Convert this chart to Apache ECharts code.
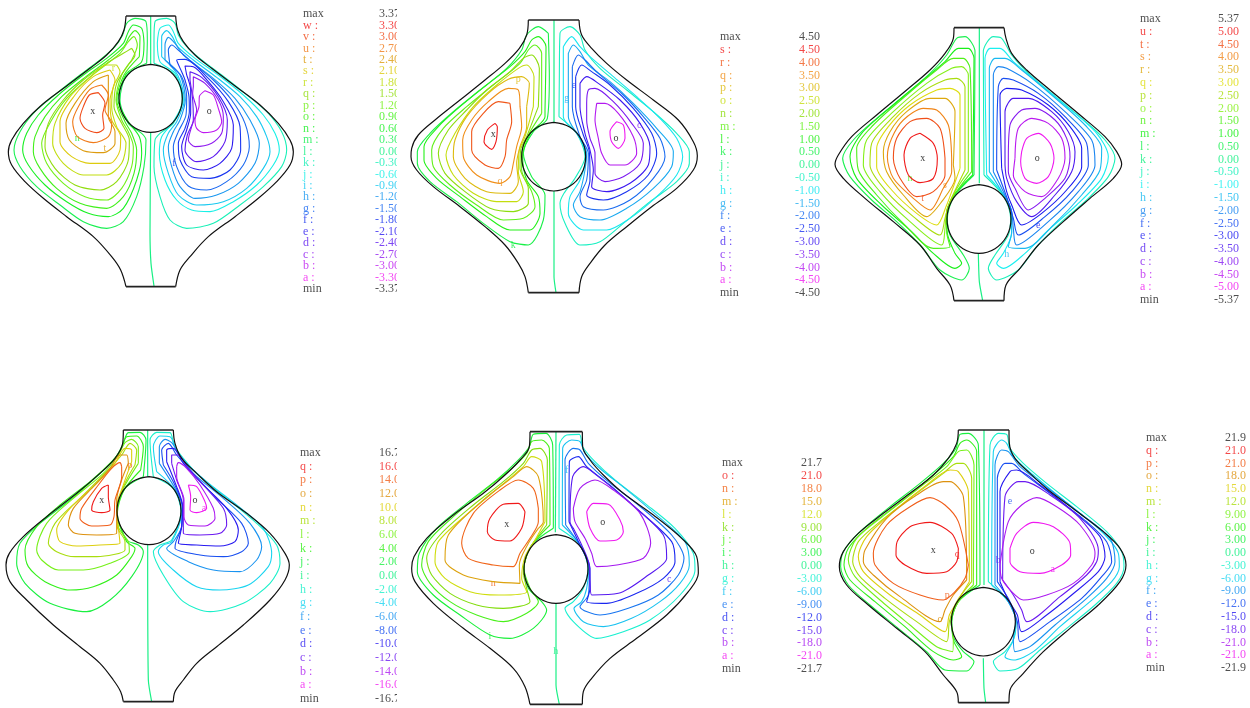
<!DOCTYPE html>
<html><head><meta charset="utf-8">
<script src="https://cdn.jsdelivr.net/npm/echarts@6/dist/echarts.min.js"></script>
<style>html,body{margin:0;background:#fff}#c{width:1250px;height:708px;filter:blur(0.55px)}</style>
</head><body><div id="c"></div>
<script>
// ---------- panel 1 ----------
const wall1=[[378,48,372,90,355,125,320,165,270,205,200,258,125,315,70,370,35,420,25,455,35,495,75,545,130,595,200,650,280,710,335,770,362,810,378,860],[527,48,533,90,550,125,585,165,635,205,705,258,780,315,835,370,870,420,880,455,870,495,830,545,775,595,705,650,625,710,570,770,540,810,527,860]];
const cyl1=[452,193,500,207,534,244,547,295,534,346,500,383,452,397,404,383,370,346,357,295,370,244,404,207];
const axis1=[[11,[452,48,452,195]],[11,[452,398,450,700,453,790,462,858]]];
const rings1=[
[10,[440,190,442,120,438,65,405,55,380,70,368,105,345,140,300,180,240,225,170,280,105,335,60,395,42,450,60,500,110,560,180,615,250,665,320,685,370,665,410,590,432,500,438,420,425,400,385,370,360,300,380,225]],
[9,[432,130,425,85,400,75,385,95,370,130,320,175,250,225,175,285,115,345,80,400,68,450,85,495,135,555,200,605,265,640,325,650,370,625,410,540,425,460,418,410,385,365,354,300,378,222,425,185]],
[8,[418,170,420,110,405,92,388,110,372,140,325,180,255,232,185,290,135,350,105,410,100,455,120,505,170,565,240,610,320,625,370,590,402,520,410,450,395,400,375,365,350,300,372,225]],
[7,[395,180,412,135,402,110,385,125,360,160,265,235,200,295,155,360,125,430,140,490,190,550,255,590,320,600,365,565,395,500,400,440,385,395,365,360,348,300,365,225]],
[6,[395,145,370,160,320,190,250,240,190,300,145,370,135,440,165,505,225,555,300,570,350,545,385,480,388,420,365,370,342,320,350,250,385,195,405,165]],
[5,[350,195,320,195,270,232,210,290,165,370,158,430,190,490,250,525,320,525,365,490,378,430,350,380,335,320,340,260,360,215]],
[4,[330,210,280,230,225,285,180,365,180,425,215,470,270,490,330,490,360,450,362,410,335,360,330,300,345,240]],
[3,[325,225,280,245,225,310,198,370,208,420,250,452,310,458,345,430,345,395,325,350,325,290]],
[2,[305,255,270,268,235,320,218,365,232,410,280,428,325,410,335,370,315,330,325,285]],
[1,[295,278,268,285,250,320,240,355,255,385,290,398,312,385,308,345,315,310]],
[12,[462,190,462,120,465,65,500,55,525,70,535,105,560,140,605,180,665,225,735,280,800,335,845,395,860,450,845,500,790,560,720,615,640,670,560,685,510,660,480,590,462,500,465,420,480,400,520,370,547,300,525,225]],
[13,[472,130,480,85,505,75,520,95,535,130,585,175,655,225,730,285,790,345,825,400,838,450,820,495,770,555,700,605,630,635,575,630,530,600,495,540,478,460,485,410,520,365,550,300,527,222,480,185]],
[14,[485,170,485,110,500,92,517,110,533,140,580,180,650,232,720,290,770,350,800,410,810,455,790,505,740,565,670,605,590,615,535,585,505,520,490,450,505,400,530,365,553,300,533,225]],
[15,[495,180,495,135,505,112,525,130,550,165,640,235,705,295,750,360,778,430,765,490,715,550,650,585,585,595,540,560,515,500,505,440,520,395,540,360,556,300,540,225]],
[16,[510,195,505,150,515,135,540,155,580,190,640,240,695,300,735,370,748,440,730,495,680,545,620,570,565,558,530,500,520,440,535,395,558,345,560,290,545,230]],
[17,[545,215,530,180,555,178,625,235,685,305,720,380,722,450,690,510,630,535,575,530,540,480,535,430,555,385,568,335,567,290,555,240]],
[18,[560,225,555,198,580,200,625,245,670,305,700,375,695,445,660,490,610,510,560,495,545,440,560,390,572,340,572,270]],
[19,[570,240,570,215,605,232,655,290,682,360,675,425,640,470,590,485,555,450,562,405,580,360,578,300]],
[20,[580,260,580,230,615,250,655,300,670,350,665,400,635,430,585,440,565,420,575,380,590,330,578,280]],
[21,[615,272,640,285,655,325,665,365,650,390,610,398,590,385,585,360,597,320,598,290]]
];
const marks1=[['x',-1,278,335],['o',-1,628,335],['n',9,232,415],['t',3,315,445],['f',17,522,490],['r',5,340,205]];
const names1=['max','w :','v :','u :','t :','s :','r :','q :','p :','o :','n :','m :','l :','k :','j :','i :','h :','g :','f :','e :','d :','c :','b :','a :','min'];
const values1=['3.37','3.30','3.00','2.70','2.40','2.10','1.80','1.50','1.20','0.90','0.60','0.30','0.00','-0.30','-0.60','-0.90','-1.20','-1.50','-1.80','-2.10','-2.40','-2.70','-3.00','-3.30','-3.37'];

// ---------- panel 2 ----------
const wall2=[[355,30,350,75,328,115,285,160,225,210,150,270,75,330,25,375,5,415,3,440,20,480,70,530,150,590,225,650,285,705,325,760,345,800,355,848],[507,30,515,75,545,115,590,160,650,210,730,270,805,330,850,395,862,437,850,480,800,535,725,590,650,650,585,705,540,760,515,800,507,848]];
const cyl2=[431,337,479,351,514,388,527,440,514,492,479,529,431,543,383,529,348,492,335,440,348,388,383,351];
const axis2=[[9,[432,30,432,337]],[9,[432,543,432,800,438,848]]];
const rings2=[
[8,[415,70,418,200,412,325,370,365,340,430,365,500,405,555,400,630,355,705,300,695,220,640,140,575,60,515,22,460,22,425,60,370,130,305,210,240,290,175,335,120,350,75,385,50]],
[7,[405,300,408,110,385,80,365,90,345,125,300,170,230,225,150,290,85,350,42,410,42,450,80,505,150,560,230,620,300,660,360,660,390,610,385,560,350,510,338,440,362,370,405,320]],
[6,[395,310,395,130,375,105,355,120,330,160,250,225,170,290,100,355,65,420,70,470,120,525,200,585,280,630,340,625,375,590,365,545,335,480,335,430,355,375]],
[5,[385,290,388,175,365,135,340,145,300,185,230,240,170,300,115,360,85,430,105,490,165,545,240,595,310,605,355,580,355,535,330,475,332,420,350,380]],
[4,[370,290,372,200,350,165,325,175,260,225,190,290,135,370,108,435,130,495,190,550,260,575,320,575,340,545,325,485,328,420,345,380]],
[3,[350,290,358,220,335,200,295,208,235,250,170,320,135,390,130,440,165,505,230,545,300,550,325,515,320,460,330,410,350,350]],
[2,[330,290,325,240,295,235,235,275,185,330,158,390,160,440,200,495,270,520,300,500,310,460,320,410,335,350]],
[1,[300,280,265,275,220,310,185,365,185,420,225,465,265,475,285,440,290,390,305,335]],
[0,[255,340,232,360,222,395,245,418,258,395,262,350]],
[10,[447,320,448,200,450,70,480,50,510,75,525,120,570,175,650,240,730,305,800,370,838,425,838,460,800,515,720,575,640,640,570,695,510,705,465,640,450,580,462,550,495,505,525,440,500,370]],
[11,[460,110,485,80,510,110,540,140,610,200,680,260,750,325,800,385,818,440,800,495,740,560,660,625,590,660,520,660,475,610,480,560,510,510,528,440,505,375,460,320]],
[12,[475,130,490,105,510,125,535,165,600,215,670,280,740,355,790,425,785,470,730,535,650,595,570,630,510,620,490,585,510,545,525,480,530,430,510,385,475,320]],
[13,[487,170,505,135,525,150,565,190,640,255,700,320,750,385,765,440,730,505,660,570,580,600,520,590,510,560,530,510,535,430,510,380,487,290]],
[14,[497,200,515,165,545,185,600,225,670,295,725,370,740,430,715,495,650,545,580,570,530,555,540,510,538,425,520,375,497,290]],
[15,[510,220,530,200,565,220,630,270,690,340,720,410,715,465,660,520,590,545,545,530,550,480,540,420,525,370,510,290]],
[16,[530,280,535,240,555,235,610,275,665,340,700,400,690,460,640,500,585,515,555,490,555,430,540,385,530,330]],
[17,[560,280,585,280,625,310,670,380,680,430,645,465,600,465,575,430,565,385,555,330]],
[18,[620,335,640,345,645,385,625,415,605,395,600,365]]
];
const marks2=[['x',-1,250,372],['o',-1,618,385],['k',8,310,705],['p',3,325,208],['e',14,492,225],['g',12,470,265],['q',2,270,515],['c',16,688,345]];
const names2=['max','s :','r :','q :','p :','o :','n :','m :','l :','k :','j :','i :','h :','g :','f :','e :','d :','c :','b :','a :','min'];
const values2=['4.50','4.50','4.00','3.50','3.00','2.50','2.00','1.50','1.00','0.50','0.00','-0.50','-1.00','-1.50','-2.00','-2.50','-3.00','-3.50','-4.00','-4.50','-4.50'];

// ---------- panel 3 ----------
const wall3=[[372,38,370,70,345,115,300,165,230,225,140,300,65,365,25,420,15,448,40,490,105,550,190,620,270,690,320,760,360,810,372,857],[522,38,528,70,545,115,590,165,660,225,750,300,825,365,860,410,875,448,850,490,780,550,700,620,625,690,570,760,528,810,522,857]];
const cyl3=[447,509,495,523,530,560,543,612,530,664,495,701,447,715,399,701,364,664,351,612,364,560,399,523];
const axis3=[[10,[448,38,448,505]],[10,[445,715,448,800,458,857]]];
const rings3=[
[9,[432,480,435,110,405,65,380,70,350,120,300,175,225,240,140,310,70,375,38,430,60,485,125,555,200,620,275,695,330,765,395,795,418,760,400,720,360,660,352,610,372,545]],
[8,[428,480,432,130,415,100,385,100,345,140,280,195,190,270,95,355,60,425,80,490,155,570,245,650,310,715,375,760,395,745,375,715,352,655,350,600,368,545]],
[7,[425,470,420,160,400,130,370,130,320,165,230,240,130,330,80,400,85,465,140,540,220,625,310,700,360,695,350,650,350,590,380,530]],
[6,[415,470,415,180,395,155,365,160,290,205,190,290,110,375,100,450,150,530,240,620,335,690,345,640,350,590,375,530]],
[5,[405,465,405,215,380,190,345,195,270,235,190,305,125,385,120,450,170,530,250,605,330,660,345,610,360,560]],
[4,[390,460,390,240,360,220,320,225,240,270,175,335,140,400,140,455,185,525,260,595,320,630,350,570,365,530]],
[3,[370,450,375,290,345,250,300,250,230,290,180,350,160,410,170,470,220,540,290,605,335,560,375,490]],
[2,[365,430,355,330,320,285,280,280,220,315,185,370,172,425,190,490,250,550,300,585,340,520,365,470]],
[1,[345,430,330,340,290,310,240,320,200,370,190,430,210,490,260,545,310,530,345,480]],
[0,[270,355,240,370,222,420,235,480,270,503,310,490,322,430,310,385]],
[11,[462,480,460,110,490,65,515,70,545,120,595,175,670,240,755,310,825,375,855,430,835,485,770,555,695,620,620,695,565,765,500,795,475,760,495,720,535,660,542,610,522,545]],
[12,[470,480,465,130,480,100,510,100,550,140,615,195,705,270,800,355,835,425,815,490,740,570,650,650,585,715,520,760,500,745,520,715,545,655,545,600,525,545]],
[13,[478,470,478,160,495,130,525,130,575,165,665,240,765,330,815,400,810,465,755,540,675,625,585,700,535,695,545,650,545,590,515,530]],
[14,[490,470,490,180,505,155,530,160,605,205,705,290,785,375,795,450,745,530,655,620,560,690,550,640,545,590,520,530]],
[15,[500,465,505,215,520,190,550,195,625,235,705,305,770,385,775,450,725,530,645,605,565,660,550,610,535,560]],
[16,[515,460,510,240,530,220,575,225,655,270,720,335,755,400,755,455,710,525,635,595,575,630,545,570,530,530]],
[17,[525,450,525,290,550,250,595,250,665,290,715,350,735,410,725,470,675,540,605,605,560,560,530,490]],
[18,[535,430,540,330,575,285,615,280,675,315,710,370,720,425,705,490,645,550,595,585,555,520,535,470]],
[19,[555,430,565,340,605,310,655,325,695,370,705,430,685,490,635,545,585,530,550,480]],
[20,[575,410,590,370,625,355,660,385,672,430,655,485,620,505,585,490,572,440]]
];
const marks3=[['x',-1,278,430],['o',-1,622,430],['t',1,278,550],['e',16,625,632],['h',13,530,718],['n',7,240,490],['s',2,345,510]];
const names3=['max','u :','t :','s :','r :','q :','p :','o :','n :','m :','l :','k :','j :','i :','h :','g :','f :','e :','d :','c :','b :','a :','min'];
const values3=['5.37','5.00','4.50','4.00','3.50','3.00','2.50','2.00','1.50','1.00','0.50','0.00','-0.50','-1.00','-1.50','-2.00','-2.50','-3.00','-3.50','-4.00','-4.50','-5.00','-5.37'];

// ---------- panel 4 ----------
const wall4=[[370,30,368,70,345,115,300,160,230,220,140,290,70,350,28,400,18,435,30,485,80,540,160,615,240,680,300,730,340,780,362,815,370,845],[520,30,525,70,545,115,590,160,650,215,740,280,810,340,855,400,868,435,855,480,810,540,730,615,650,680,590,730,550,780,525,815,520,845]];
const cyl4=[447,170,495,184,530,221,543,272,530,323,495,360,447,374,399,360,364,323,351,272,364,221,399,184];
const axis4=[[8,[443,30,443,170]],[8,[443,374,445,780,455,845]]];
const rings4=[
[7,[430,170,438,60,420,37,385,38,368,75,345,115,290,170,210,240,120,310,60,370,50,430,75,490,150,550,260,575,330,540,395,470,430,395,415,375,380,360,350,275,375,205]],
[6,[422,150,430,80,410,48,380,50,362,90,335,125,270,185,180,255,110,320,75,390,85,440,135,485,210,510,280,500,350,465,395,410,405,385,380,365,352,280,372,210]],
[5,[415,130,415,80,395,58,375,68,355,105,310,160,220,235,140,310,110,390,125,420,175,450,250,450,330,430,388,395,385,365,355,320,352,260,370,205]],
[4,[405,135,410,90,390,70,365,105,325,150,240,235,165,310,145,370,170,395,225,410,290,410,375,390,375,365,352,320,352,260,375,190]],
[3,[395,125,395,90,375,85,345,130,290,190,210,265,170,330,180,365,230,378,300,375,360,370,355,320,350,260,370,195]],
[2,[385,130,380,105,360,105,330,145,285,195,220,265,205,315,225,340,290,345,350,340,350,280,350,240,365,180]],
[1,[365,140,360,128,335,145,295,195,245,265,240,295,275,318,330,315,342,290,345,240,365,170]],
[0,[325,195,305,205,280,245,275,270,305,278,330,270,325,230]],
[9,[460,170,450,60,470,37,510,38,522,75,550,115,600,170,680,235,770,310,830,375,840,430,810,490,730,550,630,575,550,545,490,465,460,395,480,375,515,360,543,275,520,205]],
[10,[470,155,460,80,480,48,510,50,530,90,555,125,620,185,710,255,790,325,815,400,805,440,745,495,660,510,590,500,520,450,475,395,490,375,515,365,545,280,525,210]],
[11,[478,130,478,80,495,58,515,68,538,105,580,160,670,235,750,310,785,380,770,420,720,455,640,450,565,425,500,385,520,365,545,320,547,260,525,205]],
[12,[490,135,485,90,505,70,530,105,570,150,650,235,725,310,745,370,725,395,670,410,600,405,525,385,528,365,545,320,547,260,522,190]],
[13,[500,125,500,90,520,85,550,130,605,190,680,265,715,330,705,365,660,378,590,375,535,370,545,320,548,260,528,195]],
[14,[515,130,515,105,535,105,565,145,610,195,670,265,680,315,660,340,600,345,550,340,550,280,550,240,530,180]],
[15,[530,140,535,128,560,145,600,195,640,265,645,295,615,318,565,315,552,290,552,240,530,170]],
[16,[565,195,590,200,615,245,620,265,590,278,570,270,572,230]]
];
const marks4=[['x',-1,305,242],['o',-1,585,242],['a',16,612,264],['p',1,390,135]];
const names4=['max','q :','p :','o :','n :','m :','l :','k :','j :','i :','h :','g :','f :','e :','d :','c :','b :','a :','min'];
const values4=['16.7','16.0','14.0','12.0','10.0','8.00','6.00','4.00','2.00','0.00','-2.00','-4.00','-6.00','-8.00','-10.0','-12.0','-14.0','-16.0','-16.7'];

// ---------- panel 5 ----------
const wall5=[[360,20,358,65,330,105,285,150,220,205,130,270,50,340,12,395,5,430,15,470,70,535,160,610,240,670,310,730,345,785,360,838],[517,20,518,65,540,105,580,150,640,205,730,270,815,340,860,395,865,445,835,500,770,570,680,640,600,700,545,760,520,800,517,838]];
const cyl5=[438,329,486,343,521,380,534,432,521,484,486,521,438,535,390,521,355,484,342,432,355,380,390,343];
const axis5=[[7,[438,20,436,322]],[7,[438,535,438,780,448,838]]];
const rings5=[
[6,[430,310,428,60,408,25,370,28,358,65,320,110,260,165,170,235,80,310,28,385,22,440,70,510,150,570,240,630,300,640,370,610,410,555,395,530,355,490,342,430,365,360]],
[5,[420,300,418,70,395,45,365,50,350,85,300,135,230,190,130,275,55,350,35,420,60,475,120,530,200,570,280,590,350,565,385,530,360,490,342,430,362,365]],
[4,[410,300,412,105,390,70,365,75,340,115,280,170,190,240,90,330,50,400,65,450,120,505,200,540,280,550,360,530,350,490,340,440,360,370]],
[3,[405,290,395,110,365,95,340,125,270,185,180,260,85,350,75,410,105,460,180,500,265,510,350,500,335,460,345,395,375,345]],
[2,[385,310,400,290,385,155,350,125,310,155,220,225,115,330,105,405,160,450,250,470,330,475,328,420,355,355]],
[1,[385,250,370,190,325,165,270,195,190,265,155,355,175,400,250,420,310,425,330,385,360,340,385,290]],
[0,[345,260,325,235,280,238,240,280,232,320,255,345,300,348,335,310]],
[8,[447,310,448,60,470,30,508,28,518,65,555,110,615,165,705,235,795,310,850,385,855,435,810,510,720,585,640,620,560,640,490,590,465,550,490,530,520,490,534,430,510,360]],
[9,[457,300,458,70,485,45,510,50,525,85,575,135,645,190,745,275,825,350,838,420,810,475,750,530,665,580,580,605,520,590,492,550,515,530,530,490,536,430,515,365]],
[10,[467,300,465,105,490,70,510,75,535,115,595,170,685,240,785,330,822,400,805,450,745,510,655,550,570,570,510,545,535,510,538,440,515,370]],
[11,[477,290,478,110,505,95,530,125,605,185,690,260,785,350,795,410,760,460,680,505,590,535,530,530,540,490,540,430,510,360]],
[12,[490,310,480,290,488,155,520,125,565,155,650,225,760,330,770,400,715,450,625,505,545,510,540,470,538,420,515,360]],
[13,[490,250,510,190,555,165,610,195,690,265,722,355,700,400,620,420,560,425,545,385,525,340,495,290]],
[14,[530,260,550,235,595,238,630,285,640,320,620,345,570,348,540,310]]
];
const marks5=[['x',-1,290,297],['o',-1,578,292],['i',6,240,635],['h',7,437,680],['n',1,250,475],['c',12,778,462],['f',9,470,135]];
const names5=['max','o :','n :','m :','l :','k :','j :','i :','h :','g :','f :','e :','d :','c :','b :','a :','min'];
const values5=['21.7','21.0','18.0','15.0','12.0','9.00','6.00','3.00','0.00','-3.00','-6.00','-9.00','-12.0','-15.0','-18.0','-21.0','-21.7'];

// ---------- panel 6 ----------
const wall6=[[385,15,380,55,355,100,310,150,240,205,160,265,85,325,40,380,28,425,50,480,115,540,200,610,285,680,340,750,380,800,385,833],[537,15,538,55,555,100,600,145,655,195,735,255,820,320,870,370,888,420,870,470,805,540,720,610,640,680,580,745,540,795,537,833]];
const cyl6=[460,487,508,501,543,538,556,590,543,642,508,679,460,693,412,679,377,642,364,590,377,538,412,501];
const axis6=[[8,[462,15,462,480]],[8,[460,700,462,790,467,833]]];
const rings6=[
[7,[450,480,445,60,415,25,390,28,378,70,340,115,270,175,180,245,90,320,40,380,32,425,55,480,120,540,205,610,290,680,345,735,410,738,432,710,400,680,372,640,365,590,385,530]],
[6,[440,480,440,80,410,45,390,55,370,95,310,150,220,225,110,310,55,370,42,420,60,465,135,530,225,605,310,680,370,705,395,695,372,650,365,590,385,530]],
[5,[430,480,432,120,410,75,385,80,350,125,285,175,170,265,80,340,55,405,75,455,150,525,240,600,320,665,368,680,370,630,362,590,385,530]],
[4,[425,470,425,160,400,115,380,115,340,145,260,205,150,290,85,350,68,410,90,455,165,520,260,590,350,650,358,590,380,530]],
[3,[418,470,415,200,385,140,360,135,290,180,190,260,110,335,85,395,100,440,180,510,270,570,345,620,358,570,385,525]],
[2,[410,465,400,215,360,170,340,170,260,210,170,280,105,375,100,410,130,450,210,515,330,590,345,555,370,510]],
[1,[415,420,385,290,345,240,300,218,240,245,170,300,130,385,135,420,190,475,270,510,340,525,375,500,405,460]],
[0,[385,370,365,325,300,292,240,305,200,355,198,390,225,420,290,445,350,440,380,410]],
[9,[475,470,480,60,505,25,530,28,540,70,580,115,650,175,740,245,830,320,875,380,882,425,860,475,795,540,710,610,630,675,565,730,510,738,490,710,525,680,552,640,558,590,535,530]],
[10,[485,480,490,80,515,45,530,55,550,95,610,150,700,225,810,315,865,385,868,425,845,470,780,530,690,605,610,680,550,705,525,695,548,650,558,590,535,530]],
[11,[495,480,495,120,515,75,535,80,570,125,635,175,750,265,840,340,855,410,830,460,770,520,675,600,600,665,555,680,550,630,558,590,535,530]],
[12,[502,470,502,160,525,115,545,115,580,145,660,205,770,290,830,350,845,410,815,455,755,520,660,590,570,650,562,590,540,530]],
[13,[510,470,510,200,540,140,560,135,630,180,730,260,810,335,825,395,805,440,725,510,650,570,575,620,562,570,535,525]],
[14,[518,465,525,215,565,170,585,170,660,210,750,280,805,375,800,410,770,450,690,515,590,590,575,555,550,510]],
[15,[510,420,535,290,575,240,620,218,680,245,750,300,795,385,785,420,730,475,650,510,580,525,545,500,515,460]],
[16,[540,370,560,325,610,292,670,305,720,355,722,390,695,420,630,445,570,440,540,410]]
];
const marks6=[['x',-1,310,377],['o',-1,607,380],['q',0,382,388],['p',1,352,510],['o',2,330,582],['b',15,505,405],['e',12,540,228],['a',16,668,433]];
const names6=['max','q :','p :','o :','n :','m :','l :','k :','j :','i :','h :','g :','f :','e :','d :','c :','b :','a :','min'];
const values6=['21.9','21.0','21.0','18.0','15.0','12.0','9.00','6.00','3.00','0.00','-3.00','-6.00','-9.00','-12.0','-15.0','-18.0','-21.0','-21.0','-21.9'];

// ---------- layout and styles ----------
const panels=[
 {box:[0,0,300,300],  walls:wall1,cyl:cyl1,axis:axis1,rings:rings1,marks:marks1,names:names1,values:values1,labelX:303,valueX:400,rowTop:14,rowBottom:289},
 {box:[410,10,300,290],walls:wall2,cyl:cyl2,axis:axis2,rings:rings2,marks:marks2,names:names2,values:values2,labelX:720,valueX:820,rowTop:37,rowBottom:293},
 {box:[830,15,300,295],walls:wall3,cyl:cyl3,axis:axis3,rings:rings3,marks:marks3,names:names3,values:values3,labelX:1140,valueX:1239,rowTop:19,rowBottom:300},
 {box:[0,420,300,288],walls:wall4,cyl:cyl4,axis:axis4,rings:rings4,marks:marks4,names:names4,values:values4,labelX:300,valueX:400,rowTop:453,rowBottom:699},
 {box:[410,425,300,283],walls:wall5,cyl:cyl5,axis:axis5,rings:rings5,marks:marks5,names:names5,values:values5,labelX:722,valueX:822,rowTop:463,rowBottom:669},
 {box:[830,425,300,283],walls:wall6,cyl:cyl6,axis:axis6,rings:rings6,marks:marks6,names:names6,values:values6,labelX:1146,valueX:1246,rowTop:438,rowBottom:668}
];
const SERIF='"Liberation Serif",serif';
const pairs=f=>{const o=[];for(let i=0;i<f.length;i+=2)o.push([f[i],f[i+1]]);return o;};
const loop=f=>{const p=pairs(f);p.push(p[0]);return p;};
const hue=(lvl,n)=>`hsl(${Math.round(300*lvl/(n-1))},88%,${lvl/(n-1)>0.12&&lvl/(n-1)<0.3?46:52}%)`;

const grid=[],xAxis=[],yAxis=[],series=[];
panels.forEach((P,k)=>{
  const [l,t,w,h]=P.box, n=P.names.length-2;
  grid.push({left:l,top:t,width:w,height:h});
  xAxis.push({type:'value',gridIndex:k,min:0,max:w*3,show:false});
  yAxis.push({type:'value',gridIndex:k,min:0,max:h*3,inverse:true,show:false});
  const line=(data,color,width,smooth)=>series.push({type:'line',xAxisIndex:k,yAxisIndex:k,data,showSymbol:false,symbol:'none',smooth:smooth,clip:false,silent:true,animation:false,lineStyle:{color,width}});
  P.rings.forEach(([lvl,f])=>line(loop(f),hue(lvl,n),1.1,0.28));
  P.axis.forEach(([lvl,f])=>line(pairs(f),hue(lvl,n),1.2,0.2));
  const [L,R]=P.walls.map(pairs);
  line(L,'#111',1.2,0.35); line(R,'#111',1.2,0.35);
  line([L[0],R[0]],'#222',1.6,0); line([L[L.length-1],R[R.length-1]],'#222',1.6,0);
  line(loop(P.cyl),'#111',1.2,0.4);
  series.push({type:'scatter',xAxisIndex:k,yAxisIndex:k,symbolSize:0,silent:true,animation:false,clip:false,
    data:P.marks.map(([txt,lvl,x,y])=>({value:[x,y],label:{show:true,position:'inside',formatter:txt,fontFamily:SERIF,fontSize:10,color:lvl<0?'#000':hue(lvl,n)}}))});
});
// full-page grid for the key tables
const keyIdx=panels.length;
grid.push({left:0,top:0,width:1250,height:708});
xAxis.push({type:'value',gridIndex:keyIdx,min:0,max:1250,show:false});
yAxis.push({type:'value',gridIndex:keyIdx,min:0,max:708,inverse:true,show:false});
panels.forEach(P=>{
  const n=P.names.length-2, m=P.names.length, step=(P.rowBottom-P.rowTop)/(m-1);
  const col=i=>(i===0||i===m-1)?'#222':hue(i-1,n);
  const table=(arr,x,pos)=>series.push({type:'scatter',xAxisIndex:keyIdx,yAxisIndex:keyIdx,symbolSize:0,silent:true,animation:false,clip:false,
    data:arr.map((s,i)=>({value:[x,P.rowTop+i*step],label:{show:true,position:pos,distance:0,formatter:s,fontFamily:SERIF,fontSize:12,color:col(i)}}))});
  table(P.names,P.labelX,'right');
  table(P.values,P.valueX,'left');
});
const chart=echarts.init(document.getElementById('c'),null,{renderer:'canvas'});
chart.setOption({animation:false,backgroundColor:'#fff',grid,xAxis,yAxis,series,
  graphic:[{type:'rect',left:397,top:0,shape:{width:12,height:708},style:{fill:'#fff'},z:1000,silent:true}]});
</script></body></html>
